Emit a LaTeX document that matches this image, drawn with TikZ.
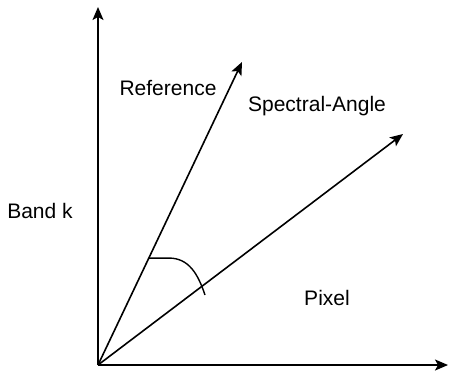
\documentclass[tikz,border=0pt]{standalone}
\usepackage{fontspec}
\setmainfont{Liberation Sans}
\usetikzlibrary{arrows.meta,calc}
\begin{document}
\begin{tikzpicture}[x=0.5pt,y=-0.5pt,
  axis/.style={line width=0.8pt,-{Stealth[length=6.5pt,width=5.5pt,inset=1.5pt]}},
  lbl/.style={font=\fontsize{10.5pt}{12pt}\selectfont}]
\useasboundingbox (0,0) rectangle (449,377);
% axes and vectors
\coordinate (o) at (98,365);
\coordinate (ytop) at (98,7);
\coordinate (xend) at (448,365);
\coordinate (reftip) at (242,62);
\coordinate (pixtip) at (403,134);
\draw[axis] (o) -- (ytop);
\draw[axis] (o) -- (xend);
\draw[axis] (o) -- (reftip);
\draw[axis] (o) -- (pixtip);
% angle
\coordinate (a1) at ($(o)!0.353!(reftip)$);
\draw[line width=0.7pt] (a1) -- ++(20,0) .. controls +(20,0) and (198,274) .. (205,295);
% labels
\node[lbl] (reflbl) at (168,88) {Reference};
\node[lbl] (anglbl) at (317,106) {Spectral-Angle};
\node[lbl] (bandlbl) at (40,211) {Band k};
\node[lbl] (pixlbl) at (327,298) {Pixel};
\end{tikzpicture}
\end{document}
